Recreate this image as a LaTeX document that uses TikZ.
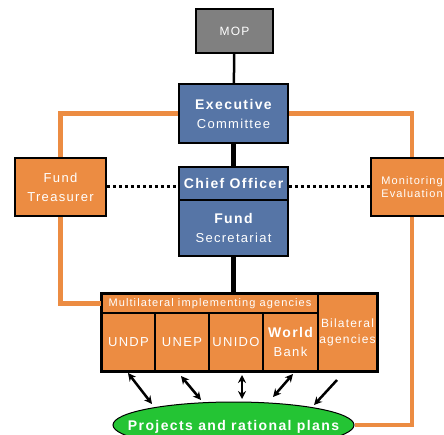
\documentclass[tikz,border=0pt]{standalone}
\usepackage{fontspec}
\setmainfont[LetterSpace=10]{Liberation Sans}
\usetikzlibrary{arrows.meta,shapes.geometric}

\definecolor{boxblue}{RGB}{86,117,166}
\definecolor{boxorange}{RGB}{236,140,66}
\definecolor{boxgrey}{RGB}{128,128,128}
\definecolor{goalgreen}{RGB}{36,196,52}

\newcommand{\headline}[1]{{\fontsize{14}{19}\selectfont\bfseries #1}}
\newcommand{\plainline}[1]{{\fontsize{13}{19}\selectfont #1}}
\newcommand{\smallline}[1]{{\fontsize{11}{13}\selectfont #1}}

\begin{document}
\begin{tikzpicture}[x=1pt,y=-1pt,
    box/.style={draw=black,line width=1.8pt,text=white,align=center,inner sep=0pt,font=\fontsize{13}{19}\selectfont},
    bluebox/.style={box,fill=boxblue,minimum width=109pt},
    orangebox/.style={box,fill=boxorange,minimum width=91pt,minimum height=58pt},
    cell/.style={box,fill=boxorange,line width=1.2pt,minimum height=58pt},
    link/.style={draw=boxorange,line width=4.5pt},
    dots/.style={line width=3pt,dash pattern=on 3pt off 3pt},
    dbl/.style={line width=2.5pt,{Stealth[length=8pt,width=8pt]}-{Stealth[length=8pt,width=8pt]}}]
    \useasboundingbox (0,0) rectangle (444,435);

    % top of the hierarchy
    \node at (234.5,31) [box,fill=boxgrey,minimum width=77pt,minimum height=44pt] (mop) {{\fontsize{12}{14}\selectfont MOP}};
    \node at (233.5,113.5) [bluebox,minimum height=59pt] (exec) {\headline{Executive}\\\plainline{Committee}};
    \node at (233.5,183.5) [bluebox,minimum height=33pt] (chief) {\headline{Chief Officer}};
    \node at (233.5,228) [bluebox,minimum height=56pt] (fundsec) {\headline{Fund}\\\plainline{Secretariat}};

    % side boxes
    \node at (60.5,187) [orangebox] (treasurer) {\plainline{Fund}\\\plainline{Treasurer}};
    \node at (412,187) [orangebox,minimum width=82pt,font=\fontsize{11}{13}\selectfont] (monitor) {\smallline{Monitoring}\\\smallline{Evaluation}};

    % implementing agencies
    \node at (210,303.5) [cell,minimum width=216pt,minimum height=19pt] (multi) {\smallline{Multilateral implementing agencies}};
    \node at (128.5,342) [cell,minimum width=53pt] (undp) {\plainline{UNDP}};
    \node at (182,342) [cell,minimum width=54pt] (unep) {\plainline{UNEP}};
    \node at (236,342) [cell,minimum width=54pt] (unido) {\plainline{UNIDO}};
    \node at (290.5,342) [cell,minimum width=55pt] (wbank) {\headline{World}\\\plainline{Bank}};
    \node at (347.5,332.5) [cell,minimum width=59pt,minimum height=77pt,font=\fontsize{12}{16}\selectfont] (bilateral) {Bilateral\\agencies};
    \draw[black,line width=2pt] (multi.north west) rectangle (bilateral.south east);

    \node at (233.5,425) [ellipse,draw=black,line width=1pt,fill=goalgreen,minimum width=241pt,minimum height=46pt,inner sep=0pt,
        label={[text=white,yshift=-2pt]center:\headline{Projects and rational plans}}] (goal) {};

    % lines of authority
    \draw[line width=2.5pt] (mop) -- (exec);
    \draw[line width=5pt] (exec) -- (chief);
    \draw[line width=5pt] (fundsec.south) -- (fundsec.south |- multi.north);
    \draw[dots] (treasurer.east) -- (treasurer.east -| chief.west);
    \draw[dots] (chief.east |- monitor.west) -- (monitor.west);

    % orange links
    \draw[link] (exec.west) -| (treasurer.north);
    \draw[link] (treasurer.south) |- (multi.west);
    \draw[link] (exec.east) -| (monitor.north);
    \draw[link] (monitor.south) |- (goal.east);

    % arrows to the projects
    \foreach \n/\xa/\ya/\xb/\yb in {1/128/373/152/404,2/181/376/201/400,3/242/375/242/399,4/293/374/273/397}{
        \coordinate (top\n) at (\xa,\ya);
        \coordinate (bot\n) at (\xb,\yb);
        \draw[dbl] (top\n) -- (bot\n);
    }
    \coordinate (top5) at (337,380);
    \coordinate (bot5) at (314,405);
    \draw[line width=2.5pt,-{Stealth[length=8pt,width=8pt]}] (top5) -- (bot5);
\end{tikzpicture}
\end{document}
